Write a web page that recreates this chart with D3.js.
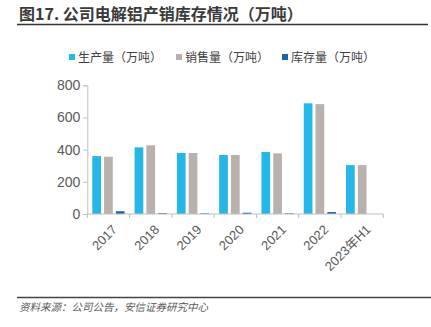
<!DOCTYPE html>
<html><head><meta charset="utf-8">
<script src="https://cdn.jsdelivr.net/npm/d3@7"></script>
<style>
html,body{margin:0;padding:0;background:#fff;}
svg{display:block;}
</style></head>
<body>
<script>
const categories = ["2017","2018","2019","2020","2021","2022","2023年H1"];
const seriesNames = ["生产量（万吨）","销售量（万吨）","库存量（万吨）"];
const production = [360, 414, 379, 367, 385, 688, 304];
const sales = [356, 427, 379, 367, 377, 683, 304];
const inventory = [17, 5, 4, 8, 4, 12, 0];
const yTicks = [0, 200, 400, 600, 800];
const colors = ["#25b7e7", "#b8b1ae", "#1065ad"];
const title = "图17. 公司电解铝产销库存情况（万吨）";
const source = "资料来源：公司公告，安信证券研究中心";

const W = 431, H = 327;
const svg = d3.select("body").append("svg").attr("width", W).attr("height", H);
const font = "'Liberation Sans', Arial, 'Noto Sans CJK SC', sans-serif";
const cjk = "'Noto Sans CJK SC', 'Liberation Sans', sans-serif";

// title
svg.append("text").attr("x", 19).attr("y", 20).attr("font-family", cjk)
  .attr("font-size", 16).attr("font-weight", "bold").attr("fill", "#3a3a3a").text(title);
svg.append("line").attr("x1", 17).attr("x2", 428).attr("y1", 24.5).attr("y2", 24.5)
  .attr("stroke", "#333").attr("stroke-width", 1.6);

// legend
const legendX = [69, 176, 282];
seriesNames.forEach((n, i) => {
  const g = svg.append("g").attr("transform", `translate(${legendX[i]},58)`);
  g.append("rect").attr("x", 0).attr("y", -4).attr("width", 6).attr("height", 6).attr("fill", colors[i]);
  g.append("text").attr("x", 9).attr("y", 4).attr("font-family", cjk).attr("font-size", 12)
    .attr("fill", "#404040").text(n);
});

// scales
const x0 = d3.scaleBand().domain(categories).range([87.3, 383.3]).paddingInner(0).paddingOuter(0);
const bw = x0.bandwidth();
const x1 = d3.scaleBand().domain([0,1,2]).range([5, bw - 5]).paddingInner(0.26);
const y = d3.scaleLinear().domain([0, 800]).range([214, 85.3]);

const data = [production, sales, inventory];
const g = svg.append("g");
categories.forEach((c, ci) => {
  data.forEach((arr, si) => {
    const v = arr[ci];
    if (v <= 0) return;
    g.append("rect").attr("x", x0(c) + x1(si)).attr("width", x1.bandwidth())
      .attr("y", y(v)).attr("height", y(0) - y(v)).attr("fill", colors[si]);
  });
});

// y axis
const yAxis = d3.axisLeft(y).tickValues(yTicks).tickSize(4).tickPadding(3);
const ya = svg.append("g").attr("transform", "translate(87.3,0)").call(yAxis);
ya.select(".domain").attr("stroke", "#bfbfbf");
ya.selectAll(".tick line").attr("stroke", "#bfbfbf");
ya.selectAll("text").attr("font-family", font).attr("font-size", 14).attr("fill", "#595959");

// x axis
const xa = svg.append("g").attr("transform", "translate(0,214)");
xa.append("line").attr("x1", 87.3).attr("x2", 383.3).attr("stroke", "#bfbfbf");
const bounds = categories.map(c => x0(c)).concat([x0(categories[categories.length-1]) + bw]);
xa.selectAll("line.tk").data(bounds).enter().append("line").attr("class","tk")
  .attr("x1", d => d).attr("x2", d => d).attr("y1", 0).attr("y2", 4).attr("stroke", "#bfbfbf");
xa.selectAll("text").data(categories).enter().append("text")
  .attr("transform", d => `translate(${x0(d) + bw/2 + 3},${10}) rotate(-45)`)
  .attr("text-anchor", "end").attr("dy", "0.7em")
  .attr("font-family", font).attr("font-size", 13).attr("fill", "#595959").text(d => d);

// footer
svg.append("line").attr("x1", 17).attr("x2", 431).attr("y1", 297.5).attr("y2", 297.5)
  .attr("stroke", "#444").attr("stroke-width", 1.6);
svg.append("text").attr("x", 19).attr("y", 311).attr("font-family", cjk).attr("font-size", 10.5)
  .attr("font-style", "italic").attr("fill", "#595959").text(source);
</script>
</body></html>
